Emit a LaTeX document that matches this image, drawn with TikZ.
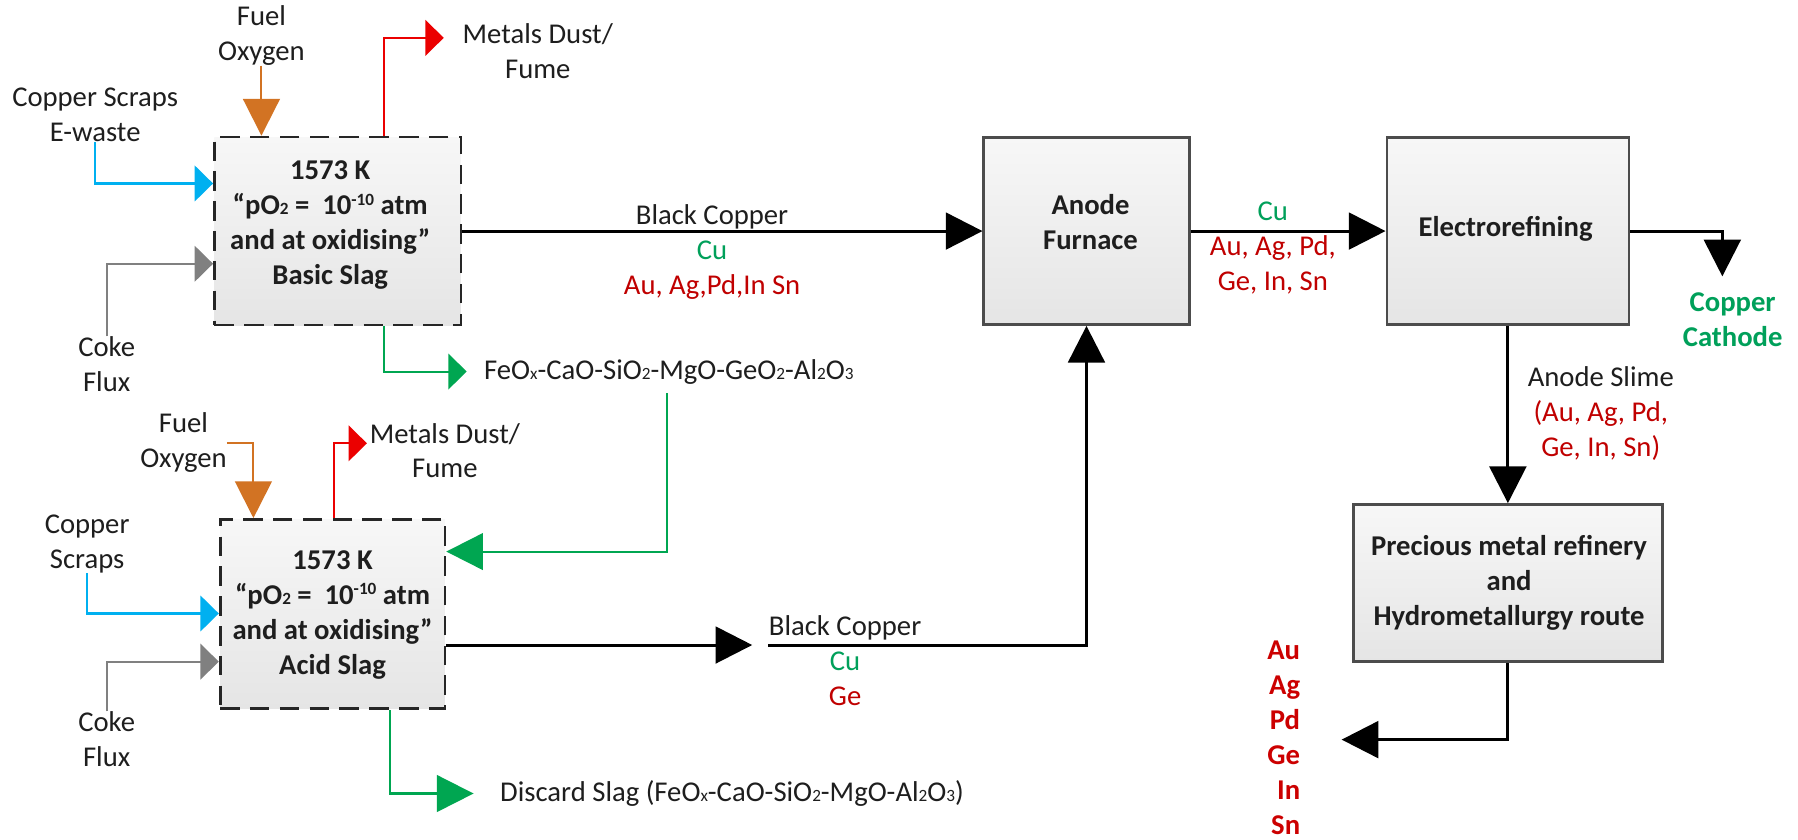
\documentclass[tikz,border=0pt]{standalone}
\usepackage{fontspec}
\setmainfont{Carlito}
\usetikzlibrary{arrows.meta}
\definecolor{cblue}{RGB}{0,176,240}
\definecolor{corange}{RGB}{210,115,35}
\definecolor{cgray}{RGB}{128,128,128}
\definecolor{credarr}{RGB}{235,0,0}
\definecolor{cgreenarr}{RGB}{0,166,81}
\definecolor{tgreen}{RGB}{0,160,90}
\definecolor{tred}{RGB}{192,0,0}
\definecolor{tredb}{RGB}{204,0,0}
\definecolor{tblack}{RGB}{30,30,30}
\definecolor{boxtop}{RGB}{247,247,247}
\definecolor{boxbot}{RGB}{229,229,229}
\newcommand{\sbs}[1]{{\fontsize{15}{15}\selectfont #1}}
\newcommand{\sps}[1]{\raisebox{8pt}{\fontsize{15}{15}\selectfont #1}}
\begin{document}
\begin{tikzpicture}[x=1pt,y=-1pt,
  lbl/.style={font=\fontsize{25}{30.5}\selectfont, text=tblack, align=center, inner sep=0pt},
  boxtxt/.style={font=\fontsize{25}{30.5}\selectfont\bfseries, text=tblack, align=center, inner sep=0pt},
  dbox/.style={draw=black!85, line width=2.4pt, dash pattern=on 17pt off 9pt, top color=boxtop, bottom color=boxbot, inner sep=0pt},
  sbox/.style={draw=black!70, line width=2.4pt, top color=boxtop, bottom color=boxbot, inner sep=0pt},
  bigtip/.style={-{Triangle[length=32pt,width=32pt]}},
  smalltip/.style={-{Triangle[length=16pt,width=31pt]}},
  flow/.style={line width=2.6pt, draw=black},
  cflow/.style={line width=1.8pt}]
\fill[white] (0,0) rectangle (1568,732);
\useasboundingbox (0,0) rectangle (1568,732);

% ---------- boxes ----------
\node[dbox, minimum width=215pt, minimum height=164pt] (b1) at (294.5,201.5) {};
\node[boxtxt] (b1t) at (288,196) {1573 K\\“pO\sbs{2} =\ \ 10\sps{-10} atm\\and at oxidising”\\Basic Slag};
\node[dbox, minimum width=196pt, minimum height=165pt] (b2) at (290,535.5) {};
\node[boxtxt] (b2t) at (290,536) {1573 K\\“pO\sbs{2} =\ \ 10\sps{-10} atm\\and at oxidising”\\Acid Slag};
\node[sbox, minimum width=179pt, minimum height=163pt] (af) at (947.5,201.5) {};
\node[boxtxt] (aft) at (951,193.5) {Anode\\Furnace};
\node[sbox, minimum width=211pt, minimum height=163pt] (el) at (1315,201.5) {};
\node[boxtxt] (elt) at (1313,200) {Electrorefining};
\node[sbox, minimum width=269pt, minimum height=137pt] (pr) at (1315,508.5) {};
\node[boxtxt] (prt) at (1316,508.5) {Precious metal refinery\\and\\Hydrometallurgy route};

% ---------- labels ----------
\node[lbl] (fo1) at (228,31) {Fuel\\Oxygen};
\node[lbl] (cs1) at (83,100) {Copper Scraps\\E-waste};
\node[lbl] (cf1) at (93,317.5) {Coke\\Flux};
\node[lbl] (md1) at (469,45) {Metals Dust/\\Fume};
\node[lbl, anchor=west] (sl1) at (422,324) {FeO\sbs{x}-CaO-SiO\sbs{2}-MgO-GeO\sbs{2}-Al\sbs{2}O\sbs{3}};
\node[lbl] (bc1) at (621,219.5) {Black Copper\\\textcolor{tgreen}{Cu}\\\textcolor{tred}{Au, Ag,Pd,In Sn}};
\node[lbl] (mid) at (1110,216) {\textcolor{tgreen}{Cu}\\\textcolor{tred}{Au, Ag, Pd,}\\\textcolor{tred}{Ge, In, Sn}};
\node[lbl, font=\fontsize{25}{30.5}\selectfont\bfseries, text=tgreen] (cc) at (1511,279) {Copper\\Cathode};
\node[lbl] (as) at (1396,361) {Anode Slime\\\textcolor{tred}{(Au, Ag, Pd,}\\\textcolor{tred}{Ge, In, Sn)}};
\node[lbl, font=\fontsize{25}{30.5}\selectfont\bfseries, text=tredb, align=right, anchor=east] (pm) at (1134,643.5) {Au\\Ag\\Pd\\Ge\\In\\Sn};

\node[lbl] (fo2) at (160,386) {Fuel\\Oxygen};
\node[lbl] (cs2) at (76,474.5) {Copper\\Scraps};
\node[lbl] (cf2) at (93,644.5) {Coke\\Flux};
\node[lbl] (md2) at (388,393) {Metals Dust/\\Fume};
\node[lbl, anchor=west] (ds) at (436,692) {Discard Slag (FeO\sbs{x}-CaO-SiO\sbs{2}-MgO-Al\sbs{2}O\sbs{3})};
\node[lbl] (bc2) at (737,576.5) {Black Copper\\\textcolor{tgreen}{Cu}\\\textcolor{tred}{Ge}};

% ---------- helper coordinates ----------
\coordinate (c1b) at (0,160);
\coordinate (c1g) at (0,230);
\coordinate (c1r) at (335,0);
\coordinate (c1rt) at (387,33);
\coordinate (gx1) at (335,0);
\coordinate (gx2) at (582,0);
\coordinate (gy2) at (0,481);
\coordinate (cct) at (1502,241);
\coordinate (pmt) at (1170,645);
\coordinate (c2ox) at (221,0);
\coordinate (c2b) at (0,535);
\coordinate (c2g) at (0,577);
\coordinate (c2r) at (291,0);
\coordinate (c2rt) at (320,386.6);
\coordinate (c2k) at (0,562.5);
\coordinate (c2kt) at (656,562.5);
\coordinate (bc2s) at (670,562.5);
\coordinate (c2d) at (340,0);

% ---------- upper connectors ----------
\draw[cflow, corange, bigtip] (fo1.south) -- (b1.north -| fo1.south);
\draw[cflow, cblue, smalltip] (cs1.south) |- (b1.west |- c1b);
\draw[cflow, cgray, smalltip] (cf1.north) |- (b1.west |- c1g);
\draw[cflow, credarr, smalltip] (b1.north -| c1r) |- (c1rt);
\draw[cflow, cgreenarr, smalltip, shorten >=15pt] (b1.south -| gx1) |- (sl1.west);
\draw[flow, bigtip] (b1.east) -- (af.west);
\draw[cflow, cgreenarr, bigtip, shorten <=8pt] (sl1.south -| gx2) |- (b2.east |- gy2);
\draw[flow, bigtip] (af.east) -- (el.west);
\draw[flow, bigtip] (el.east) -| (cct);
\draw[flow, bigtip] (el.south) -- (pr.north);
\draw[flow, bigtip] (pr.south) |- (pmt);

% ---------- lower connectors ----------
\draw[cflow, corange, bigtip] (fo2.east) -| (b2.north -| c2ox);
\draw[cflow, cblue, smalltip] (cs2.south) |- (b2.west |- c2b);
\draw[cflow, cgray, smalltip] (cf2.north) |- (b2.west |- c2g);
\draw[cflow, credarr, smalltip] (b2.north -| c2r) |- (c2rt);
\draw[flow, bigtip] (b2.east |- c2k) -- (c2kt);
\draw[flow, bigtip] (bc2s) -| (af.south);
\draw[cflow, cgreenarr, bigtip, shorten >=23pt] (b2.south -| c2d) |- (ds.west);
\end{tikzpicture}
\end{document}
